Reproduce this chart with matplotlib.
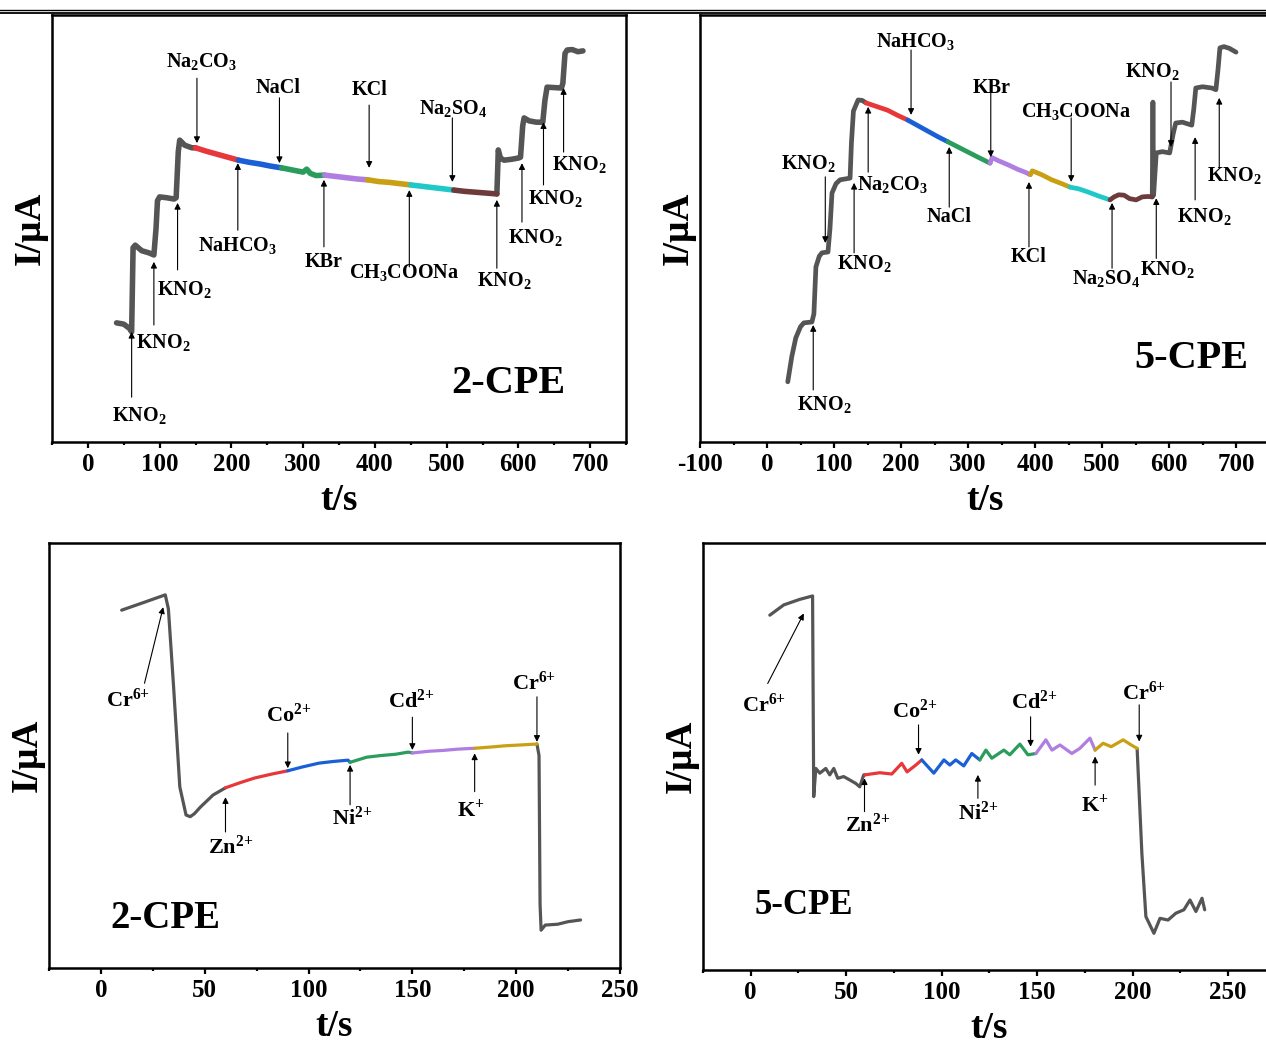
import numpy as np
import matplotlib
matplotlib.use('Agg')
import matplotlib.pyplot as plt
from matplotlib.lines import Line2D
from matplotlib.ticker import MultipleLocator

plt.rcParams['font.family'] = 'Liberation Serif'
plt.rcParams['font.weight'] = 'bold'
plt.rcParams['axes.labelweight'] = 'bold'
plt.rcParams['axes.unicode_minus'] = False
plt.rcParams['mathtext.fontset'] = 'custom'
plt.rcParams['mathtext.rm'] = 'Liberation Serif:bold'
plt.rcParams['mathtext.it'] = 'Liberation Serif:bold'
plt.rcParams['mathtext.bf'] = 'Liberation Serif:bold'
plt.rcParams['mathtext.default'] = 'rm'

GRAY = '#555555'
SEG_COLORS = ['#e8373a', '#1a5fd6', '#2a9d5c', '#b07ee0', '#c9a013', '#21c8c8', '#6d3b3b']

# ---- 2-CPE, anions (top left) ----
p1_t = [40, 50, 58, 61, 63, 66, 75, 85, 92, 95, 97, 100, 110, 120, 123, 126, 128, 135, 145, 150,
        165, 180, 195, 210, 225, 240, 255, 270, 285, 300, 305, 310, 318, 330,
        345, 360, 375, 390, 405, 420, 435, 450, 465, 480, 495, 510, 525, 540, 555, 570,
        571, 572, 575, 580, 590, 600, 603, 606, 608, 615, 625, 634, 637, 640, 650, 660,
        662, 665, 668, 675, 683, 690]
p1_i = [27.9, 27.6, 26.6, 25.8, 45.5, 46.1, 44.8, 44.3, 43.8, 50.0, 56.5, 57.4, 57.2, 56.9, 57.2, 68.0, 70.7, 69.5, 68.9, 68.9,
        68.1, 67.4, 66.7, 66.0, 65.5, 65.1, 64.6, 64.2, 63.7, 63.2, 63.9, 62.9, 62.4, 62.5,
        62.2, 61.9, 61.6, 61.4, 61.0, 60.8, 60.5, 60.2, 59.9, 59.6, 59.3, 59.0, 58.7, 58.5, 58.3, 58.1,
        63.0, 68.4, 66.5, 66.0, 66.2, 66.5, 66.7, 74.0, 75.9, 75.2, 74.9, 74.9, 80.0, 83.1, 83.0, 82.9,
        84.0, 91.0, 91.8, 91.9, 91.4, 91.6]
p1_breaks = [150, 210, 270, 330, 390, 450, 510, 570]

# ---- 5-CPE, anions (top right) ----
p2_t = [31, 37, 43, 50, 55, 67, 70, 73, 78, 82, 91, 94, 97, 103, 109, 124, 126, 129, 136, 142, 148,
        165, 180, 195, 210, 225, 240, 255, 270, 285, 300, 315, 333,
        336, 345, 360, 375, 385, 393, 396, 410, 425, 440, 452, 465, 480, 495, 512,
        518, 525, 533, 541, 551, 560, 569, 575,
        576, 577, 581, 590, 601, 606, 610, 620, 634, 637, 640, 650, 664, 670, 673, 676, 682, 690, 700]
p2_i = [14.1, 20.0, 24.4, 27.0, 27.9, 28.1, 30.0, 41.0, 43.5, 44.3, 44.5, 50.0, 58.3, 60.5, 61.4, 61.8, 70.0, 77.5, 80.1, 80.0, 79.4,
        78.5, 77.7, 76.5, 75.4, 74.1, 72.8, 71.5, 70.3, 69.1, 67.9, 66.7, 65.3,
        66.6, 65.9, 64.9, 63.8, 63.2, 62.6, 63.5, 62.6, 61.4, 60.5, 59.7, 59.3, 58.5, 57.6, 56.7,
        57.4, 57.9, 57.8, 57.0, 56.7, 57.4, 57.5, 57.4,
        79.6, 57.8, 67.7, 68.0, 67.7, 72.0, 74.7, 74.9, 74.2, 78.0, 82.9, 83.2, 82.9, 82.5, 87.0, 92.3, 92.6, 92.2, 91.3]
p2_breaks = [148, 210, 270, 333, 393, 452, 512, 575]

# ---- 2-CPE, cations (bottom left) ----
p3_t = [10, 20, 31, 32.5, 35, 38, 41, 43, 45, 48, 54, 60,
        67, 74, 82, 90, 97, 105, 112, 119, 120, 128, 135, 142, 148, 150,
        158, 165, 172, 180, 188, 195, 203, 210,
        211, 211.5, 212, 214, 220, 225, 231]
p3_i = [84.2, 85.9, 87.8, 84.5, 66.2, 42.6, 36.0, 35.6, 36.3, 37.9, 40.7, 42.4,
        43.6, 44.7, 45.6, 46.4, 47.3, 48.2, 48.6, 48.9, 48.4, 49.6, 50.0, 50.3, 50.8, 50.6,
        51.0, 51.2, 51.5, 51.7, 52.0, 52.3, 52.5, 52.7,
        50.0, 15.0, 8.9, 10.1, 10.3, 10.9, 11.3]
p3_breaks = [60, 90, 120, 150, 180, 210]

# ---- 5-CPE, cations (bottom right) ----
p4_t = [10, 17.3, 25.7, 32.4, 33, 34.1, 36.2, 39.3, 41.4, 43.5, 45.6, 48.7, 51.9, 55, 57.1, 59.2,
        59.8, 67.6, 73.9, 79.1, 81.9, 86.5, 89.6,
        95.9, 101.2, 104.3, 107.4, 111.6, 115.8, 120,
        123.2, 126.3, 132.6, 135.7, 141, 145.2, 149.4,
        154.6, 157.8, 162, 168.2, 172.4, 177.7, 180.4,
        184.6, 188.8, 195.1, 199.3, 202.4,
        204.9, 207, 211.2, 214.4, 218.6, 222.7, 226.9, 230.1, 233.2, 236.4, 237.8]
p4_i = [83.1, 85.5, 86.8, 87.6, 40.6, 47.2, 46.1, 47.2, 45.7, 47.2, 44.9, 45.3, 44.5, 43.7, 42.9, 45.7,
        45.7, 46.2, 45.9, 48.4, 46.4, 48.0, 49.2,
        46.1, 49.2, 48.0, 49.2, 47.8, 50.7, 49.2,
        51.5, 49.6, 51.5, 50.4, 52.9, 50.4, 50.7,
        53.9, 51.5, 52.7, 50.7, 51.9, 54.3, 51.5,
        53.1, 52.3, 53.9, 52.7, 51.9,
        27.3, 12.5, 8.6, 12.1, 11.7, 13.3, 14.1, 16.4, 13.7, 16.8, 14.1]
p4_breaks = [59.8, 89.6, 120, 149.4, 180.4, 202.4]

KNO2 = 'KNO$_2$'
CR6 = 'Cr$^{6{+}}$'
# label, arrow head (t, I), arrow tail (t, I), label centre (t, I)
p1_notes = [
    (KNO2, 61, 25.8, 61, 10.5, 71, 6.3),
    (KNO2, 92, 42.2, 92, 27.4, 105, 23.2),
    (KNO2, 125, 56.0, 125, 40.3, 134, 35.6),
    ('Na$_2$CO$_3$', 152, 70.0, 152, 85.2, 159, 89.0),
    ('NaHCO$_3$', 209, 65.3, 209, 49.6, 209, 46.1),
    ('NaCl', 267, 65.3, 267, 80.6, 265, 82.9),
    ('KBr', 329, 61.4, 329, 45.7, 329, 42.2),
    ('KCl', 392, 64.2, 392, 78.9, 392, 82.4),
    ('CH$_3$COONa', 448, 59.0, 448, 41.0, 441, 39.6),
    ('Na$_2$SO$_4$', 508, 60.9, 508, 75.9, 509, 78.2),
    (KNO2, 570, 56.7, 570, 40.7, 580, 37.9),
    (KNO2, 605, 65.3, 605, 51.5, 623, 48.0),
    (KNO2, 635, 74.9, 635, 60.2, 651, 57.1),
    (KNO2, 663, 82.9, 663, 67.9, 685, 64.9),
]
p2_notes = [
    (KNO2, 69, 27.4, 69, 12.2, 85, 8.7),
    (KNO2, 87, 46.6, 87, 62.1, 61, 65.3),
    (KNO2, 130, 60.7, 130, 44.3, 145, 41.9),
    ('Na$_2$CO$_3$', 151, 78.5, 151, 63.2, 187, 60.2),
    ('NaHCO$_3$', 215, 76.6, 215, 91.8, 222, 93.7),
    ('NaCl', 272, 69.1, 272, 55.0, 272, 52.7),
    ('KBr', 334, 66.7, 334, 81.7, 336, 82.9),
    ('KCl', 391, 60.9, 391, 45.7, 391, 43.3),
    ('CH$_3$COONa', 454, 60.9, 454, 75.9, 461, 77.3),
    ('Na$_2$SO$_4$', 515, 56.0, 515, 40.7, 506, 38.4),
    (KNO2, 581, 57.1, 581, 43.0, 598, 40.5),
    (KNO2, 603, 69.1, 603, 84.3, 575, 86.7),
    (KNO2, 639, 71.4, 639, 56.7, 652, 52.7),
    (KNO2, 675, 80.6, 675, 64.4, 697, 62.5),
]
p3_notes = [
    (CR6, 30, 84.9, 21, 67.0, 13, 63.0),
    ('Zn$^{2{+}}$', 60, 40.2, 60, 32.0, 62.7, 28.5),
    ('Co$^{2{+}}$', 90, 47.0, 90, 55.3, 90.3, 59.5),
    ('Ni$^{2{+}}$', 120, 47.8, 120, 38.4, 121, 35.2),
    ('Cd$^{2{+}}$', 150, 51.3, 150, 59.0, 149.6, 62.7),
    ('K$^{{+}}$', 180, 50.5, 180, 41.5, 178, 37.1),
    (CR6, 210, 53.2, 210, 63.8, 208.8, 67.0),
]
p4_notes = [
    (CR6, 27.8, 83.5, 8.9, 67.1, 6.8, 62.1),
    ('Zn$^{2{+}}$', 59.6, 44.9, 59.6, 37.1, 61.3, 34.0),
    ('Co$^{2{+}}$', 87.9, 50.4, 87.9, 57.4, 86.1, 60.5),
    ('Ni$^{2{+}}$', 119, 45.7, 119, 40.2, 119, 36.7),
    ('Cd$^{2{+}}$', 146.6, 52.3, 146.6, 59.3, 148.3, 62.8),
    ('K$^{{+}}$', 180.4, 50.0, 180.4, 43.3, 180, 38.6),
    (CR6, 203.5, 53.5, 203.5, 62.1, 206, 64.8),
]


def draw_trace(ax, t, i, breaks, lw):
    t, i = np.asarray(t), np.asarray(i)
    edges = [t[0]] + breaks + [t[-1]]
    colors = [GRAY] + SEG_COLORS[:len(breaks) - 1] + [GRAY]
    for k, c in enumerate(colors):
        m = (t >= edges[k]) & (t <= edges[k + 1])
        ax.plot(t[m], i[m], color=c, lw=lw, solid_capstyle='round',
                solid_joinstyle='round', zorder=3 if c != GRAY else 2)


def draw_notes(ax, notes, fs):
    for label, hx, hy, tx, ty, lx, ly in notes:
        ax.annotate('', xy=(hx, hy), xytext=(tx, ty),
                    arrowprops=dict(arrowstyle='-|>', lw=0.8, color='black',
                                    mutation_scale=9, shrinkA=0, shrinkB=0))
        ax.text(lx, ly, label, ha='center', va='center', fontsize=fs)


def style_axes(ax, xlim, major, minor):
    ax.set_xlim(*xlim)
    ax.set_ylim(0, 100)
    ax.set_yticks([])
    ax.xaxis.set_major_locator(MultipleLocator(major))
    ax.xaxis.set_minor_locator(MultipleLocator(minor))
    ax.tick_params(axis='x', which='major', direction='out', length=4, width=1.6,
                   labelsize=18, pad=4)
    ax.tick_params(axis='x', which='minor', direction='out', length=2.5, width=1.6)
    for s in ax.spines.values():
        s.set_linewidth(1.8)
    ax.set_xlabel('t/s', fontsize=27, fontweight='bold', labelpad=5)
    ax.set_ylabel('I/μA', fontsize=27, fontweight='bold', labelpad=3)
    ax.patch.set_alpha(0)


W, H = 1266, 1043
fig = plt.figure(figsize=(W / 100, H / 100), dpi=100)


def rect(left, top, right, bottom):
    return [left / W, 1 - bottom / H, (right - left) / W, (bottom - top) / H]


ax1 = fig.add_axes(rect(52, 15, 626, 442))
style_axes(ax1, (-50, 750), 100, 50)
draw_trace(ax1, p1_t, p1_i, p1_breaks, 4.0)
draw_notes(ax1, p1_notes, 14.5)
ax1.text(586, 13.8, '2-CPE', ha='center', va='center', fontsize=29)

ax2 = fig.add_axes(rect(700, 15, 1269.5, 442))
style_axes(ax2, (-100, 750), 100, 50)
ax2.spines['right'].set_visible(False)
draw_trace(ax2, p2_t, p2_i, p2_breaks, 3.4)
draw_notes(ax2, p2_notes, 14.5)
ax2.text(634, 19.5, '5-CPE', ha='center', va='center', fontsize=29)

ax3 = fig.add_axes(rect(49, 543, 620, 968))
style_axes(ax3, (-25, 250), 50, 25)
draw_trace(ax3, p3_t, p3_i, p3_breaks, 2.3)
draw_notes(ax3, p3_notes, 16)
ax3.text(31, 11.7, '2-CPE', ha='center', va='center', fontsize=28)

ax4 = fig.add_axes(rect(703, 543, 1275.7, 970))
style_axes(ax4, (-25, 275), 50, 25)
ax4.spines['right'].set_visible(False)
draw_trace(ax4, p4_t, p4_i, p4_breaks, 2.3)
draw_notes(ax4, p4_notes, 16)
ax4.text(27.8, 15.2, '5-CPE', ha='center', va='center', fontsize=25)

# double rule at the top of the page
fig.add_artist(Line2D([0, 1], [1 - 9.5 / H] * 2, transform=fig.transFigure, color='black', lw=1.0))
fig.add_artist(Line2D([0, 1], [1 - 13 / H] * 2, transform=fig.transFigure, color='black', lw=1.3))

fig.savefig('out.png', dpi=100, facecolor='white')
